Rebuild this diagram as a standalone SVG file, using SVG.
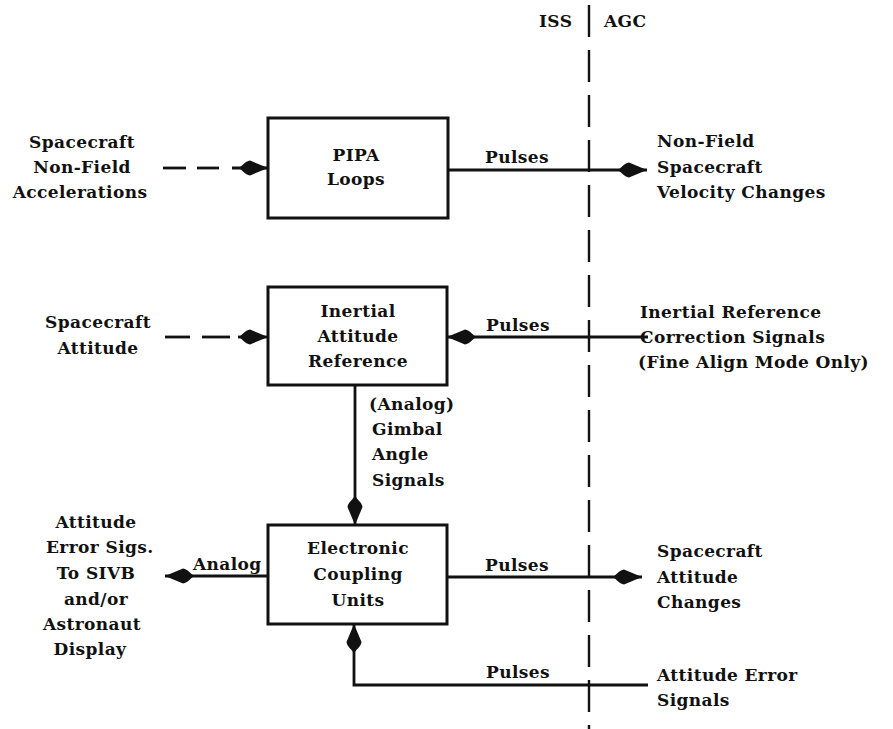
<svg xmlns="http://www.w3.org/2000/svg" width="893" height="729" viewBox="0 0 893 729">
  <style>
    text { font-family: "DejaVu Serif", "Liberation Serif", serif; font-size: 17px; font-weight: bold; letter-spacing: 0.4px; fill: #111; }
    .mid { text-anchor: middle; }
    .box { fill: #fff; stroke: #111; stroke-width: 3; }
    .wire { fill: none; stroke: #111; stroke-width: 2.8; }
    .dash { fill: none; stroke: #111; stroke-width: 2.8; }
    .split { fill: none; stroke: #111; stroke-width: 2.4; stroke-dasharray: 32 13; }
  </style>
  <defs>
    <!-- heavy teardrop arrowhead, tip at the end of the line -->
    <marker id="head" markerUnits="userSpaceOnUse" markerWidth="32" markerHeight="18" viewBox="0 0 32 18" refX="31" refY="9" orient="auto">
      <path d="M1,9 C5,8 8,2 13,1.5 L31,9 L13,16.5 C8,16 5,10 1,9 Z" fill="#111"/>
    </marker>
  </defs>

  <rect width="893" height="729" fill="#fff"/>

  <!-- ISS / AGC boundary -->
  <g id="boundary">
    <line class="split" x1="589" y1="5" x2="589" y2="729"/>
    <text x="539" y="27">ISS</text>
    <text x="604" y="27">AGC</text>
  </g>

  <!-- blocks -->
  <g id="pipa">
    <rect class="box" x="268" y="118" width="180" height="100"/>
    <text class="mid" x="356" y="161">PIPA</text>
    <text class="mid" x="356" y="185">Loops</text>
  </g>
  <g id="iar">
    <rect class="box" x="268" y="287" width="179" height="98"/>
    <text class="mid" x="358" y="317">Inertial</text>
    <text class="mid" x="358" y="342">Attitude</text>
    <text class="mid" x="358" y="367">Reference</text>
  </g>
  <g id="ecu">
    <rect class="box" x="268" y="525" width="179" height="99"/>
    <text class="mid" x="358" y="554">Electronic</text>
    <text class="mid" x="358" y="580">Coupling</text>
    <text class="mid" x="358" y="606">Units</text>
  </g>

  <!-- external inputs and outputs -->
  <g id="in-accel">
    <text class="mid" x="82" y="148">Spacecraft</text>
    <text class="mid" x="82" y="173">Non-Field</text>
    <text class="mid" x="80" y="198">Accelerations</text>
  </g>
  <g id="out-velocity">
    <text x="657" y="147">Non-Field</text>
    <text x="657" y="173">Spacecraft</text>
    <text x="657" y="198">Velocity Changes</text>
  </g>
  <g id="in-attitude">
    <text class="mid" x="98" y="328">Spacecraft</text>
    <text class="mid" x="98" y="354">Attitude</text>
  </g>
  <g id="in-correction">
    <text x="640" y="318">Inertial Reference</text>
    <text x="640" y="343">Correction Signals</text>
    <text x="638" y="368">(Fine Align Mode Only)</text>
  </g>
  <g id="out-error-sigs">
    <text class="mid" x="96" y="528">Attitude</text>
    <text x="46" y="553">Error Sigs.</text>
    <text class="mid" x="96" y="579">To SIVB</text>
    <text class="mid" x="96" y="605">and/or</text>
    <text class="mid" x="92" y="630">Astronaut</text>
    <text class="mid" x="90" y="655">Display</text>
  </g>
  <g id="out-attitude-changes">
    <text x="657" y="557">Spacecraft</text>
    <text x="657" y="583">Attitude</text>
    <text x="657" y="608">Changes</text>
  </g>
  <g id="in-error">
    <text x="657" y="681">Attitude Error</text>
    <text x="657" y="706">Signals</text>
  </g>

  <!-- connectors -->
  <g id="connectors">
    <!-- physical inputs (dashed) -->
    <line class="dash" x1="163" y1="168" x2="186" y2="168"/>
    <line class="dash" x1="197" y1="168" x2="219" y2="168"/>
    <line class="wire" x1="232" y1="168" x2="268" y2="168" marker-end="url(#head)"/>
    <line class="dash" x1="165" y1="337" x2="190" y2="337"/>
    <line class="dash" x1="202" y1="337" x2="230" y2="337"/>
    <line class="wire" x1="238" y1="337" x2="268" y2="337" marker-end="url(#head)"/>

    <!-- PIPA pulses out -->
    <line class="wire" x1="448" y1="170" x2="647" y2="170" marker-end="url(#head)"/>
    <text x="485" y="163">Pulses</text>

    <!-- correction pulses in -->
    <line class="wire" x1="648" y1="337" x2="447" y2="337" marker-end="url(#head)"/>
    <text x="486" y="331">Pulses</text>

    <!-- gimbal angle signals -->
    <line class="wire" x1="355" y1="385" x2="355" y2="525" marker-end="url(#head)"/>
    <text x="369" y="410">(Analog)</text>
    <text x="372" y="435">Gimbal</text>
    <text x="372" y="460">Angle</text>
    <text x="372" y="486">Signals</text>

    <!-- analog error out -->
    <line class="wire" x1="268" y1="576" x2="165" y2="576" marker-end="url(#head)"/>
    <text x="193" y="570">Analog</text>

    <!-- attitude pulses out -->
    <line class="wire" x1="447" y1="577" x2="642" y2="577" marker-end="url(#head)"/>
    <text x="485" y="571">Pulses</text>

    <!-- attitude error pulses in -->
    <polyline class="wire" points="648,685 354,685 354,624" marker-end="url(#head)"/>
    <text x="486" y="678">Pulses</text>
  </g>
</svg>
